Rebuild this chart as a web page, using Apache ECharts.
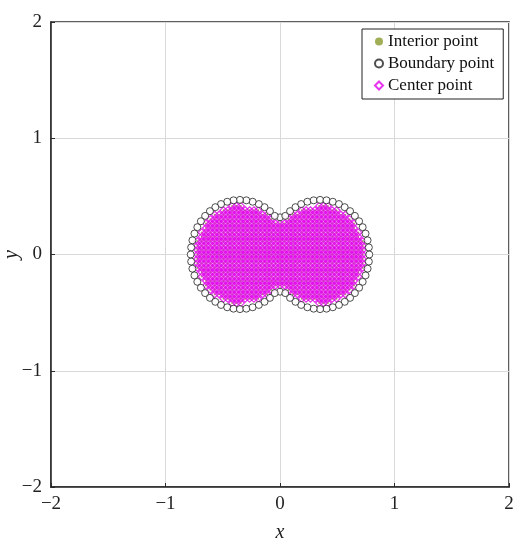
<!DOCTYPE html>
<html>
<head>
<meta charset="utf-8">
<script src="https://cdn.jsdelivr.net/npm/echarts@6.0.0/dist/echarts.min.js"></script>
<style>
  html, body { margin: 0; padding: 0; background: #fff; }
  #chart { width: 526px; height: 550px; }
</style>
</head>
<body>
<div id="chart"></div>
<script>
// tick values on both axes
const ticks = [-2, -1, 0, 1, 2]

// grid columns / rows of the interior (and center) points
const colX = [-0.722, -0.684, -0.646, -0.608, -0.570, -0.532, -0.494, -0.456, -0.418, -0.380,
  -0.342, -0.304, -0.266, -0.228, -0.190, -0.152, -0.114, -0.076, -0.038, 0,
  0.038, 0.076, 0.114, 0.152, 0.190, 0.228, 0.266, 0.304, 0.342, 0.380,
  0.418, 0.456, 0.494, 0.532, 0.570, 0.608, 0.646, 0.684, 0.722]
const rowY = [-0.418, -0.380, -0.342, -0.304, -0.266, -0.228, -0.190, -0.152, -0.114, -0.076, -0.038, 0,
  0.038, 0.076, 0.114, 0.152, 0.190, 0.228, 0.266, 0.304, 0.342, 0.380, 0.418]
// per row: largest |x| and smallest |x| that is filled (gap at the neck)
const rowOuter = [0.420, 0.524, 0.582, 0.623, 0.654, 0.679, 0.699, 0.714, 0.726, 0.734, 0.738, 0.740,
  0.738, 0.734, 0.726, 0.714, 0.699, 0.679, 0.654, 0.623, 0.582, 0.524, 0.420]
const rowInner = [0.310, 0.175, 0.113, 0.070, 0, 0, 0, 0, 0, 0, 0, 0,
  0, 0, 0, 0, 0, 0, 0, 0.070, 0.113, 0.175, 0.310]

// boundary points, read around the peanut outline
const boundaryPts = [
  [0, 0.320], [0, -0.320],
  // left lobe
  [-0.046, 0.332], [-0.088, 0.373], [-0.135, 0.407], [-0.185, 0.434], [-0.239, 0.454], [-0.294, 0.466],
  [-0.350, 0.470], [-0.406, 0.466], [-0.461, 0.454], [-0.515, 0.434], [-0.565, 0.407], [-0.612, 0.373],
  [-0.654, 0.332], [-0.691, 0.286], [-0.722, 0.235], [-0.747, 0.180], [-0.765, 0.122], [-0.776, 0.061],
  [-0.780, 0],
  [-0.776, -0.061], [-0.765, -0.122], [-0.747, -0.180], [-0.722, -0.235], [-0.691, -0.286], [-0.654, -0.332],
  [-0.612, -0.373], [-0.565, -0.407], [-0.515, -0.434], [-0.461, -0.454], [-0.406, -0.466], [-0.350, -0.470],
  [-0.294, -0.466], [-0.239, -0.454], [-0.185, -0.434], [-0.135, -0.407], [-0.088, -0.373], [-0.046, -0.332],
  // right lobe
  [0.046, 0.332], [0.088, 0.373], [0.135, 0.407], [0.185, 0.434], [0.239, 0.454], [0.294, 0.466],
  [0.350, 0.470], [0.406, 0.466], [0.461, 0.454], [0.515, 0.434], [0.565, 0.407], [0.612, 0.373],
  [0.654, 0.332], [0.691, 0.286], [0.722, 0.235], [0.747, 0.180], [0.765, 0.122], [0.776, 0.061],
  [0.780, 0],
  [0.776, -0.061], [0.765, -0.122], [0.747, -0.180], [0.722, -0.235], [0.691, -0.286], [0.654, -0.332],
  [0.612, -0.373], [0.565, -0.407], [0.515, -0.434], [0.461, -0.454], [0.406, -0.466], [0.350, -0.470],
  [0.294, -0.466], [0.239, -0.454], [0.185, -0.434], [0.135, -0.407], [0.088, -0.373], [0.046, -0.332]
]

// build the grid point list from the row/column tables
const gridPts = []
rowY.forEach((y, i) => {
  colX.forEach(x => {
    const ax = Math.abs(x)
    if (ax <= rowOuter[i] + 1e-6 && ax >= rowInner[i] - 1e-6) gridPts.push([x, y])
  })
})

const font = 'Liberation Serif, Times New Roman, serif'
const minus = v => String(v).replace('-', '\u2212')

const chart = echarts.init(document.getElementById('chart'), null, { renderer: 'canvas' })
chart.setOption({
  animation: false,
  backgroundColor: '#fff',
  grid: {
    left: 51, right: 17, top: 22, bottom: 63,
    containLabel: false, outerBoundsMode: 'none',
    show: true, borderColor: '#2a2a2a', borderWidth: 1.5, backgroundColor: 'transparent'
  },
  legend: {
    orient: 'vertical',
    left: 362, top: 29,
    padding: [4, 9, 5, 12],
    itemGap: 5,
    itemWidth: 8, itemHeight: 8,
    backgroundColor: '#fff',
    borderColor: '#222', borderWidth: 1,
    textStyle: { fontFamily: font, fontSize: 17, lineHeight: 17, color: '#111' },
    data: ['Interior point', 'Boundary point', 'Center point']
  },
  xAxis: {
    type: 'value', min: ticks[0], max: ticks[ticks.length - 1], interval: 1,
    name: 'x', nameLocation: 'middle', nameGap: 36, nameMoveOverlap: false,
    nameTextStyle: { fontFamily: font, fontStyle: 'italic', fontSize: 20, color: '#222' },
    axisLine: { show: true, onZero: false, lineStyle: { color: '#2a2a2a', width: 1.5 } },
    axisTick: { show: true, inside: true, length: 4, lineStyle: { color: '#2a2a2a' } },
    axisLabel: { margin: 8, fontFamily: font, fontSize: 19, color: '#222', formatter: minus },
    splitLine: { show: true, lineStyle: { color: '#d9d9d9', width: 1 } }
  },
  yAxis: {
    type: 'value', min: ticks[0], max: ticks[ticks.length - 1], interval: 1,
    name: 'y', nameLocation: 'middle', nameGap: 29, nameMoveOverlap: false,
    nameTextStyle: { fontFamily: font, fontStyle: 'italic', fontSize: 20, color: '#222' },
    axisLine: { show: true, onZero: false, lineStyle: { color: '#2a2a2a', width: 1.5 } },
    axisTick: { show: true, inside: true, length: 4, lineStyle: { color: '#2a2a2a' } },
    axisLabel: { margin: 9, fontFamily: font, fontSize: 19, color: '#222', formatter: minus },
    splitLine: { show: true, lineStyle: { color: '#d9d9d9', width: 1 } }
  },
  series: [
    {
      name: 'Interior point', type: 'scatter', z: 2,
      symbol: 'circle', symbolSize: 2,
      itemStyle: { color: '#8a9a2a' },
      data: gridPts
    },
    {
      name: 'Center point', type: 'scatter', z: 3,
      symbol: 'diamond', symbolSize: 7,
      itemStyle: { color: 'rgba(255,255,255,0)', borderColor: '#e000e8', borderWidth: 1.3 },
      data: gridPts
    },
    {
      name: 'Boundary point', type: 'scatter', z: 4,
      symbol: 'circle', symbolSize: 7,
      itemStyle: { color: '#ffffff', borderColor: '#222', borderWidth: 1 },
      data: boundaryPts
    }
  ]
})
</script>
</body>
</html>
